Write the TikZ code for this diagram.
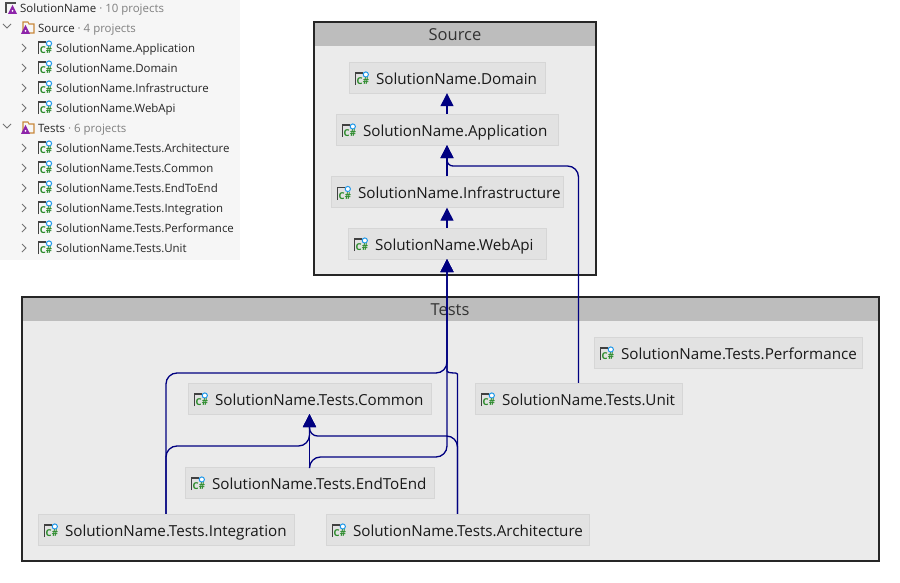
\documentclass[tikz,border=0pt]{standalone}
\usepackage{fontspec}
\setmainfont{Open Sans}
\usepackage{tikz}
\usetikzlibrary{arrows.meta}
\definecolor{depblue}{HTML}{000080}
\definecolor{panelgrey}{HTML}{F6F6F6}
\definecolor{bodygrey}{HTML}{EBEBEB}
\definecolor{headgrey}{HTML}{BDBDBD}
\definecolor{projgrey}{HTML}{E2E2E2}
\definecolor{edgegrey}{HTML}{D6D6D6}
\definecolor{csgreen}{HTML}{2A8A2A}
\definecolor{csblue}{HTML}{1C97EA}
\definecolor{slnpurple}{HTML}{8E24AA}
\definecolor{folderorange}{HTML}{C8883C}
\tikzset{
  csicon/.pic={
    \draw[line width=1.4pt, black!75] (-6.5,6) -- (-6.5,-6) -- (1,-6);
    \draw[line width=1pt, csblue, fill=white] (4,-4.5) circle (2.6);
    \node (glyph) [inner sep=0pt, text=csgreen, font=\fontsize{9.5}{9.5}\selectfont\bfseries] at (1,2.5) {C\#};
  },
  slnicon/.pic={
    \draw[line width=1.2pt, black!70] (-5,5) -- (-5,-5) -- (5,-5);
    \fill[slnpurple] (-3,6) -- (1.5,-3) -- (6,6) -- cycle;
    \fill[white] (1.5,3) circle (1);
  },
  foldericon/.pic={
    \draw[line width=1.1pt, folderorange, fill=panelgrey] (-5,5) -- (-5,-6) -- (0,-6) -- (1,-4) -- (6,-4) -- (6,5) -- cycle;
    \fill[slnpurple] (-7,6) -- (-2.5,-3) -- (2,6) -- cycle;
    \fill[white] (-2.5,3) circle (1);
  },
  closedrow/.pic={\draw[line width=0.8pt, black!55] (-2,-4) -- (2,0) -- (-2,4);},
  openrow/.pic={\draw[line width=0.8pt, black!55] (-4,-2) -- (0,2) -- (4,-2);},
  treeitem/.style={anchor=west, inner sep=0pt, text height=11pt, text depth=1.5pt, text=black!85, font=\fontsize{11.45}{14}\selectfont},
  proj/.style={draw=edgegrey, fill=projgrey, minimum width=#1, text width=#1-2pt, align=flush left,
    minimum height=31pt, inner xsep=0pt, inner ysep=0pt, text height=16pt, text depth=2.5pt, text=black!90,
    font=\fontsize{15.2}{18}\selectfont, execute at begin node={\hspace*{26pt}}},
  grouphead/.style={inner sep=0pt, text=black!80, font=\fontsize{16.5}{18}\selectfont},
  dep/.style={draw=depblue, line width=1.3pt, rounded corners=11pt},
  deptip/.style={dep, -{Triangle[length=13pt, width=13pt]}},
}
\newcommand{\treecount}[1]{{\color{black!50}\ · #1}}
\begin{document}
\begin{tikzpicture}[x=1pt, y=-1pt]
    \useasboundingbox (0,0) rectangle (900,583);
    \fill[panelgrey] (0,0) rectangle (240,260);

    \node (sln) [treeitem] at (20,8) {SolutionName\treecount{10 projects}};
    \node (srcfolder) [treeitem] at (38,28) {Source\treecount{4 projects}};
    \node (t1) [treeitem] at (56,48) {SolutionName.Application};
    \node (t2) [treeitem] at (56,68) {SolutionName.Domain};
    \node (t3) [treeitem] at (56,88) {SolutionName.Infrastructure};
    \node (t4) [treeitem] at (56,108) {SolutionName.WebApi};
    \node (testfolder) [treeitem] at (38,128) {Tests\treecount{6 projects}};
    \node (t5) [treeitem] at (56,148) {SolutionName.Tests.Architecture};
    \node (t6) [treeitem] at (56,168) {SolutionName.Tests.Common};
    \node (t7) [treeitem] at (56,188) {SolutionName.Tests.EndToEnd};
    \node (t8) [treeitem] at (56,208) {SolutionName.Tests.Integration};
    \node (t9) [treeitem] at (56,228) {SolutionName.Tests.Performance};
    \node (t10) [treeitem] at (56,248) {SolutionName.Tests.Unit};

    \pic at (11,8) {slnicon};
    \pic at (7,26) {openrow};
    \pic at (28,28) {foldericon};
    \pic at (7,126) {openrow};
    \pic at (28,128) {foldericon};
    \foreach \t in {t1,t2,t3,t4,t5,t6,t7,t8,t9,t10} {
        \pic at ([xshift=-11pt]\t.west) {csicon};
        \pic at ([xshift=-32pt]\t.west) {closedrow};
    }

    \draw[line width=1.3pt, black!85, fill=bodygrey] (314,22) rectangle (596,275);
    \fill[headgrey] (315,23) rectangle (595,46);
    \node (source) [grouphead] at (455,35) {Source};
    \draw[line width=1.3pt, black!85, fill=bodygrey] (22,297) rectangle (879,561);
    \fill[headgrey] (23,298) rectangle (878,321);
    \node (tests) [grouphead] at (450,310) {Tests};

    \node (domain) [proj=196pt] at (447,77.5) {SolutionName.Domain};
    \node (application) [proj=222pt] at (447,129.5) {SolutionName.Application};
    \node (infrastructure) [proj=232pt] at (447,192) {SolutionName.Infrastructure};
    \node (webapi) [proj=198pt] at (447,243.5) {SolutionName.WebApi};
    \node (performance) [proj=268pt] at (728,352.5) {SolutionName.Tests.Performance};
    \node (unit) [proj=207pt] at (578.5,398.5) {SolutionName.Tests.Unit};
    \node (common) [proj=243pt] at (309.5,398.5) {SolutionName.Tests.Common};
    \node (endtoend) [proj=249pt] at (309.5,482.5) {SolutionName.Tests.EndToEnd};
    \node (integration) [proj=256pt] at (166,529.5) {SolutionName.Tests.Integration};
    \node (architecture) [proj=263pt] at (457.5,529.5) {SolutionName.Tests.Architecture};

    \foreach \p in {domain,application,infrastructure,webapi,performance,unit,common,endtoend,integration,architecture} {
        \pic at ([xshift=13pt, yshift=-1.5pt]\p.west) {csicon};
    }

    \coordinate (archbend) at (457.5,385);
    \coordinate (archjoin) at (447,360);

    \draw[deptip] (application) -- (domain);
    \draw[deptip] (infrastructure) -- (application);
    \draw[deptip] (webapi) -- (infrastructure);
    \draw[deptip] (endtoend) -- (common);
    \draw[deptip] (unit.north) |- (500,166) [rounded corners=6pt] -- (application.south |- 0,166) -- (application.south);
    \draw[deptip] (integration.north) |- (300,373) -- (webapi.south |- 0,373) -- (webapi.south);
    \draw[deptip] (architecture.north) -- (archbend) .. controls (457.5,372) and (447,374) .. (archjoin) -- (webapi.south);
    \draw[deptip] (integration.north) |- (240,446) -- (common.south |- 0,446) -- (common.south);
    \draw[deptip] (architecture.north) |- (400,436) [rounded corners=8pt] -- (common.south |- 0,436) -- (common.south);
    \draw[deptip] (endtoend.north) |- (380,457) -- (webapi.south |- 0,457) -- (webapi.south);
\end{tikzpicture}
\end{document}
